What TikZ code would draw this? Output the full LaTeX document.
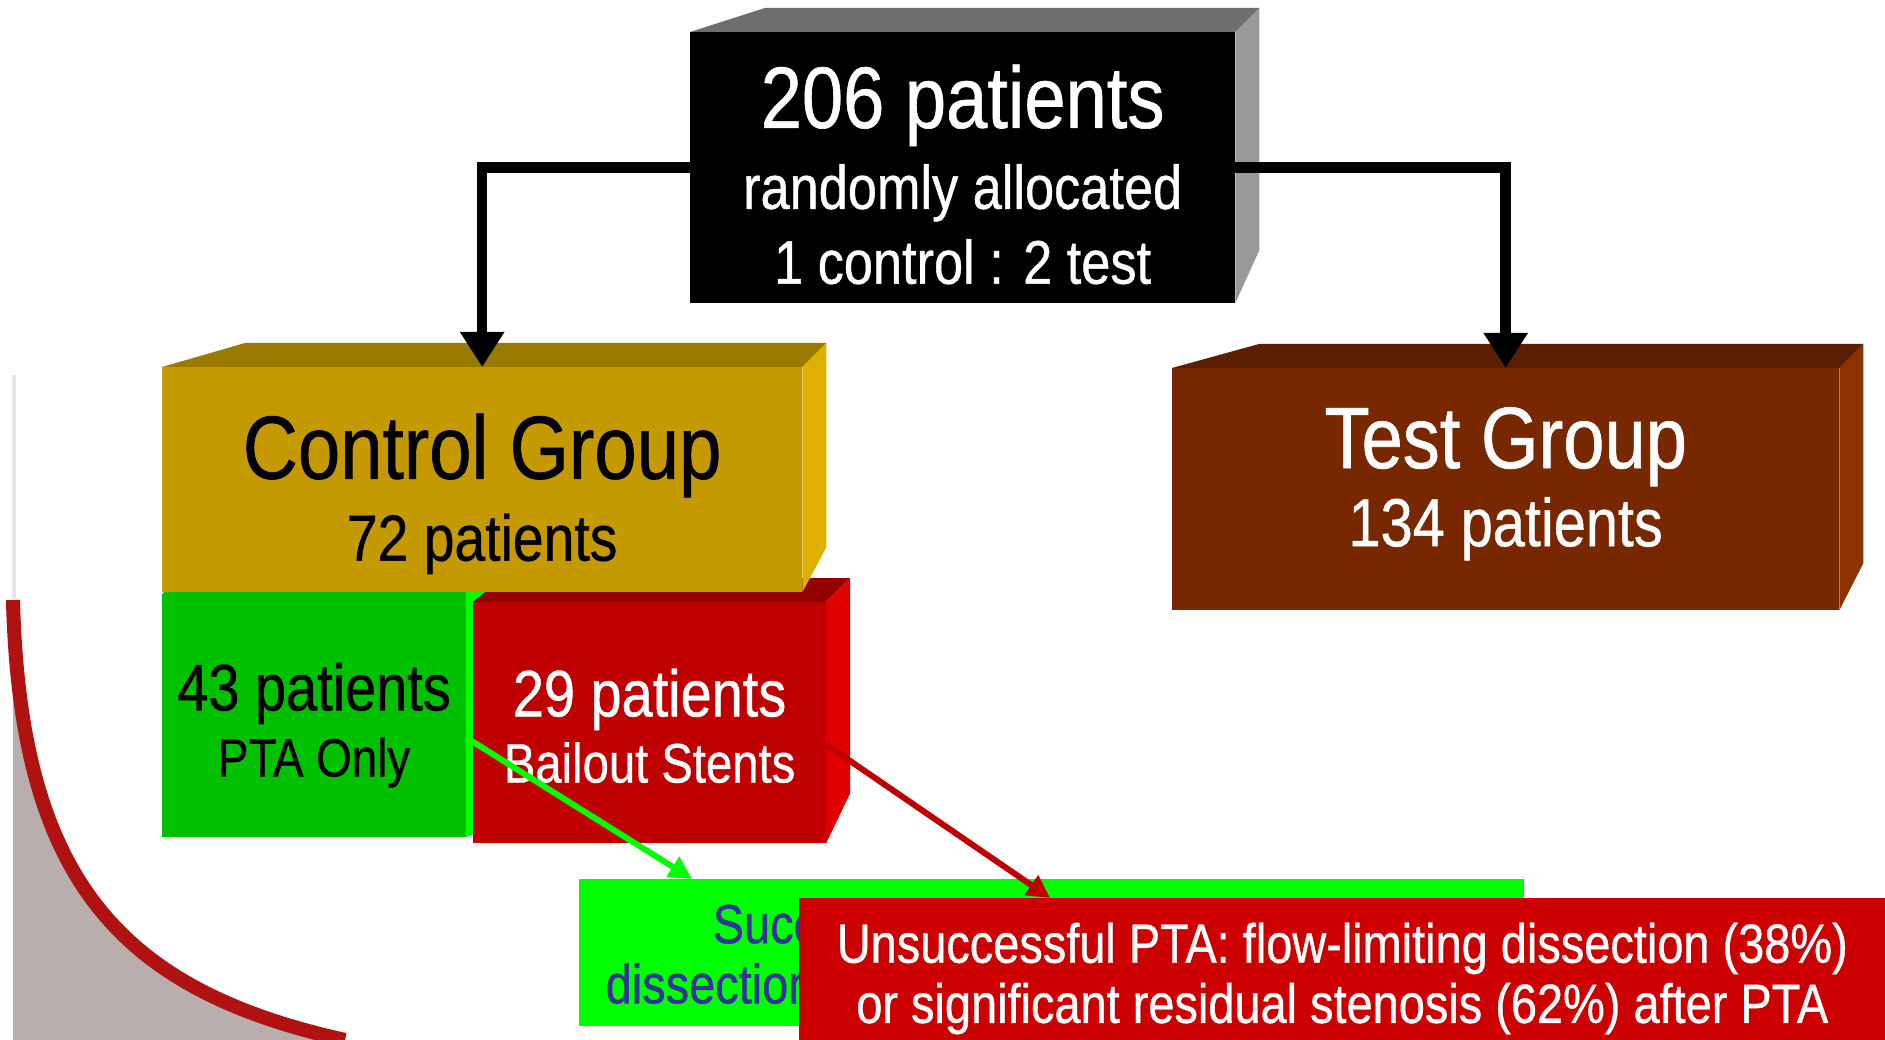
\documentclass[tikz,border=0pt]{standalone}
\usepackage{fontspec}
\setmainfont{Liberation Sans}[FakeStretch=0.85, FakeBold=0.7]
\usetikzlibrary{arrows.meta,positioning}
\definecolor{goldfront}{HTML}{C49A00}
\definecolor{goldtop}{HTML}{9A7A00}
\definecolor{goldside}{HTML}{E0B000}
\definecolor{brownfront}{HTML}{782800}
\definecolor{browntop}{HTML}{5C1E00}
\definecolor{brownside}{HTML}{8C3200}
\definecolor{redfront}{HTML}{C00000}
\definecolor{redtop}{HTML}{940000}
\definecolor{redside}{HTML}{E00000}
\definecolor{greenfront}{HTML}{00C000}
\definecolor{lime}{HTML}{00FF00}
\definecolor{alarm}{HTML}{CC0000}
\definecolor{navytext}{HTML}{333399}
\definecolor{swoosh}{HTML}{B8AFAD}
\definecolor{swooshred}{HTML}{B01212}
\tikzset{
  box/.style 2 args={anchor=north west, inner sep=0pt, outer sep=0pt, minimum width=#1, minimum height=#2},
  txt/.style={inner sep=0pt, align=center, text=white},
  flow/.style={line width=3pt, -{Triangle[length=10pt,width=12pt]}},
  hint/.style={line width=1.7pt, -{Triangle[length=6.5pt,width=6.5pt]}}
}
% top and side faces of a slab: node, top colour, side colour, top-left offset, side drop
\newcommand{\slabfaces}[5]{%
  \fill[#2] (#1.north west) -- ++(#4,-24) -- ([shift={(24,-24)}]#1.north east) -- (#1.north east) -- cycle;
  \fill[#3] (#1.north east) -- ++(24,-24) -- ([shift={(24,-#5)}]#1.south east) -- (#1.south east) -- cycle;}

\begin{document}
\begin{tikzpicture}[x=0.01cm, y=-0.01cm]
\useasboundingbox (0,0) rectangle (1885,1040);
\fill[white] (0,0) rectangle (1885,1040);
% slide corner
\fill[swoosh] (13,600) .. controls (20,880) and (120,990) .. (345,1040) -- (13,1040) -- cycle;
\draw[swooshred, line width=4pt] (13,600) .. controls (20,880) and (120,990) .. (345,1040);
\draw[black!10, line width=1pt] (14,375) -- (14,598);

\node[box={5.45cm}{2.71cm}, fill=black] (all) at (690,32) {};
\slabfaces{all}{black!57}{black!40}{75}{53}
\node[box={6.67cm}{2.42cm}, fill=brownfront] (test) at (1172,368) {};
\slabfaces{test}{browntop}{brownside}{87}{47}
\node[box={3.04cm}{2.43cm}, fill=greenfront] (pta) at (162,594) {};
\slabfaces{pta}{greenfront}{lime}{24}{10}
\node[box={3.53cm}{2.41cm}, fill=redfront] (stent) at (473,602) {};
\slabfaces{stent}{redtop}{redside}{30}{50}
\node[box={6.40cm}{2.25cm}, fill=goldfront] (ctrl) at (162,367) {};
\slabfaces{ctrl}{goldtop}{goldside}{83}{45}

\draw[flow] (all.west) -| (ctrl.north);
\draw[flow] (all.east) -| (test.north);

\node[txt, below=0.32cm of all.north, font={\fontsize{17.5}{21.3}\selectfont}] (allt)
  {{\fontsize{24.8}{30}\selectfont 206 patients}\\[1.7pt] randomly allocated\\ 1 control : 2 test};
\node[txt, text=black, below=0.46cm of ctrl.north, font={\fontsize{18.5}{23.3}\selectfont}] (ctrlt)
  {{\fontsize{25.5}{30}\selectfont Control Group}\\ 72 patients};
\node[txt, below=0.385cm of test.north, font={\fontsize{19.3}{22.2}\selectfont}] (testt)
  {{\fontsize{24.8}{30}\selectfont Test Group}\\ 134 patients};
\node[txt, text=black, below=0.68cm of pta.north, font={\fontsize{15.3}{18.8}\selectfont}] (ptat)
  {{\fontsize{18.7}{22}\selectfont 43 patients}\\ PTA Only};
\node[txt, below=0.66cm of stent.north, font={\fontsize{15.8}{18.8}\selectfont}] (stentt)
  {{\fontsize{18.7}{22}\selectfont 29 patients}\\ Bailout Stents};

\node[box={9.44cm}{1.47cm}, fill=lime] (ok) at (579,879) {};
\node[txt, text=navytext, align=left, anchor=north west, font={\fontsize{15.7}{17.1}\selectfont}] (okt)
  at ([shift={(26,25)}]ok.north west) {\hspace*{1.07cm}Succ\\ dissection};
\node[box={10.86cm}{1.42cm}, fill=alarm] (fail) at (799,898) {};
\node[txt, below=0.24cm of fail.north, font={\fontsize{15.7}{17.1}\selectfont}] (failt)
  {Unsuccessful PTA: flow-limiting dissection (38\%)\\ or significant residual stenosis (62\%) after PTA};

\draw[hint, lime] ([yshift=-0.22cm]pta.east) -- ([xshift=1.13cm]ok.north west);
\draw[hint, redfront] ([yshift=-0.22cm]stent.east) -- ([xshift=2.51cm]fail.north west);
\end{tikzpicture}
\end{document}
